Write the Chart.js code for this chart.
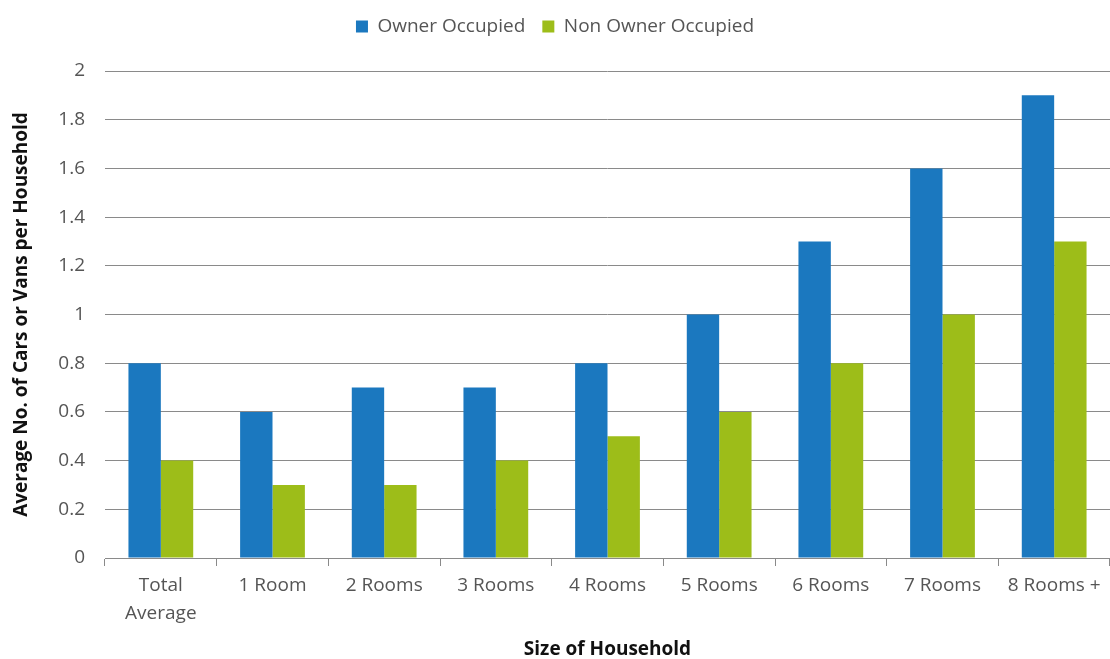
<!DOCTYPE html>
<html lang="en">
<head>
  <meta charset="UTF-8">
  <title>Cars or Vans per Household</title>
  <script src="https://cdn.jsdelivr.net/npm/chart.js"></script>
  <style>
    body { margin: 0; background: #fff; }
    #wrap { width: 1110px; height: 659px; }
  </style>
</head>
<body>
<div id="wrap"><canvas id="chart"></canvas></div>
<script>
  const categories = [['Total', 'Average'], '1 Room', '2 Rooms', '3 Rooms', '4 Rooms', '5 Rooms', '6 Rooms', '7 Rooms', '8 Rooms +'];
  const ownerOccupied = [0.8, 0.6, 0.7, 0.7, 0.8, 1.0, 1.3, 1.6, 1.9];
  const nonOwnerOccupied = [0.4, 0.3, 0.3, 0.4, 0.5, 0.6, 0.8, 1.0, 1.3];
  const yTicks = [0, 0.2, 0.4, 0.6, 0.8, 1, 1.2, 1.4, 1.6, 1.8, 2];

  const FONT = "'Open Sans', sans-serif";
  const TEXT = '#555555';

  // pin the legend height so the plot starts where the reference does
  const legendHeight = {
    id: 'legendHeight',
    beforeInit(chart) {
      const fit = chart.legend.fit;
      chart.legend.fit = function () {
        fit.call(this);
        this.height = 71;
      };
    }
  };

  new Chart(document.getElementById('chart'), {
    type: 'bar',
    data: {
      labels: categories,
      datasets: [
        { label: 'Owner Occupied', data: ownerOccupied, backgroundColor: '#1b78bf' },
        { label: 'Non Owner Occupied', data: nonOwnerOccupied, backgroundColor: '#9dbd19' }
      ]
    },
    plugins: [legendHeight],
    options: {
      responsive: true,
      maintainAspectRatio: false,
      animation: false,
      layout: { padding: 0 },
      datasets: { bar: { categoryPercentage: 0.58, barPercentage: 1 } },
      plugins: {
        legend: {
          position: 'top',
          align: 'center',
          labels: {
            boxWidth: 12, boxHeight: 12, padding: 17,
            color: TEXT, font: { family: FONT, size: 19 }
          }
        },
        tooltip: { enabled: false }
      },
      scales: {
        x: {
          grid: { display: true, drawOnChartArea: false, offset: true, tickLength: 8, color: '#8a8a8a' },
          border: { display: true, color: '#8a8a8a' },
          ticks: { color: TEXT, font: { family: FONT, size: 19, lineHeight: 1.5 }, maxRotation: 0, padding: 5 },
          title: { display: true, text: 'Size of Household', color: '#111', font: { family: FONT, size: 19, weight: 'bold', lineHeight: 1 }, padding: 0 },
          afterFit(scale) { scale.height = 101; }
        },
        y: {
          min: 0, max: 2,
          afterBuildTicks(scale) { scale.ticks = yTicks.map(v => ({ value: v })); },
          grid: { color: '#8a8a8a', drawTicks: false },
          border: { display: false },
          ticks: {
            color: TEXT, font: { family: FONT, size: 19 }, padding: 20,
            callback: v => String(+v.toFixed(1))
          },
          title: { display: true, text: 'Average No. of Cars or Vans per Household', color: '#111', font: { family: FONT, size: 19, weight: 'bold', lineHeight: 1 }, padding: { top: 12, bottom: 0 } },
          afterFit(scale) { scale.width = 105; }
        }
      }
    }
  });
</script>
</body>
</html>
